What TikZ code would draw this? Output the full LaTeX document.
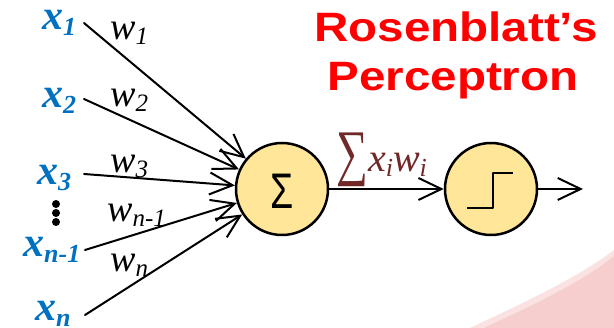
\documentclass[tikz,border=0pt]{standalone}
\usepackage{fontspec}
\setmainfont{Liberation Serif}
\newfontfamily\headfont{Liberation Sans}
\usetikzlibrary{arrows.meta}

\definecolor{inblue}{RGB}{0,112,192}
\definecolor{sumred}{RGB}{112,40,40}
\definecolor{cellfill}{RGB}{255,230,153}
\definecolor{swoosh}{RGB}{247,206,206}

% input and weight labels
\newcommand{\inlab}[1]{{\fontsize{42}{42}\selectfont\bfseries\itshape x}\raisebox{-6pt}{\fontsize{26}{26}\selectfont\bfseries\itshape #1}}
\newcommand{\wlab}[1]{{\fontsize{38}{38}\selectfont\itshape w}\raisebox{-5pt}{\fontsize{25}{25}\selectfont\itshape #1}}

\begin{document}
\begin{tikzpicture}[
		x=1pt, y=-1pt,
		line cap=round, line join=round,
		>={Straight Barb[length=23pt,width=22pt]},
		wire/.style={->, line width=2pt},
		unit/.style={circle, draw, line width=2.5pt, fill=cellfill, minimum size=92pt, inner sep=0pt},
		inname/.style={anchor=base west, inner sep=0pt, text=inblue},
		wname/.style={anchor=base west, inner sep=0pt},
		headtext/.style={anchor=base, inner sep=0pt, text=red, xscale=1.16, font=\headfont\bfseries\fontsize{41}{41}\selectfont}
		]
		
		% ---------- Frame and background swoosh ----------
		\useasboundingbox (0,0) rectangle (614,328);
		\fill[white] (0,0) rectangle (614,328);
		\fill[swoosh!60] (470,328) .. controls (530,300) and (580,276) .. (614,250) -- (614,328) -- cycle;
		\fill[swoosh] (484,328) .. controls (540,302) and (585,280) .. (614,256) -- (614,328) -- cycle;
		
		% ---------- Title ----------
		\node[headtext] (head1) at (456,42) {Rosenblatt’s};
		\node[headtext] (head2) at (453,91) {Perceptron};
		
		% ---------- Units ----------
		\node[unit] (sum) at (282,189) {};
		\node[xscale=0.75, font=\headfont\fontsize{50}{50}\selectfont] (sigma) at (282,191) {Σ};
		\node[unit] (act) at (491,189) {};
		% step function inside the activation unit
		\draw[line width=2.5pt, line cap=butt] ([shift={(-24,19)}]act.center) -- ([shift={(2,19)}]act.center)
		-- ([shift={(2,-16)}]act.center) -- ([shift={(22,-16)}]act.center);
		
		% ---------- Inputs ----------
		\node[inname] (x1) at (42,30) {\inlab{1}};
		\node[inname] (x2) at (42,108) {\inlab{2}};
		\node[inname] (x3) at (37,185) {\inlab{3}};
		\node[inname] (xm) at (23,257) {\inlab{n-1}};
		\node[inname] (xn) at (35,321) {\inlab{n}};
		\fill (56,204) circle[radius=4];
		\fill (56,213) circle[radius=4];
		\fill (56,222) circle[radius=4];
		
		% start points of the input wires
		\coordinate (s1) at (84,23);
		\coordinate (s2) at (84,99);
		\coordinate (s3) at (84,174);
		\coordinate (sm) at (85,250);
		\coordinate (sn) at (85,315);
		
		\draw[wire] (s1) -- (sum);
		\draw[wire] (s2) -- (sum);
		\draw[wire] (s3) -- (sum);
		\draw[wire] (sm) -- (sum);
		\draw[wire] (sn) -- (sum);
		
		% ---------- Weights ----------
		\node[wname] (w1) at (110,40) {\wlab{1}};
		\node[wname] (w2) at (110,107) {\wlab{2}};
		\node[wname] (w3) at (110,173) {\wlab{3}};
		\node[wname] (wm) at (107,222) {\wlab{n-1}};
		\node[wname] (wn) at (110,272) {\wlab{n}};
		
		% ---------- Weighted sum and output ----------
		\draw[wire] (sum) -- (act);
		\node[wname, text=sumred] (sumlab) at (336,172) {\raisebox{-2pt}{\scalebox{0.72}[1]{\fontsize{62}{62}\selectfont ∑}}{\fontsize{40}{40}\selectfont\itshape x}\raisebox{-5pt}{\fontsize{26}{26}\selectfont\itshape i}{\fontsize{40}{40}\selectfont\itshape w}\raisebox{-5pt}{\fontsize{26}{26}\selectfont\itshape i}};
		\coordinate (out) at (583,189);
		\draw[wire] (act) -- (out);
		
	\end{tikzpicture}
\end{document}
